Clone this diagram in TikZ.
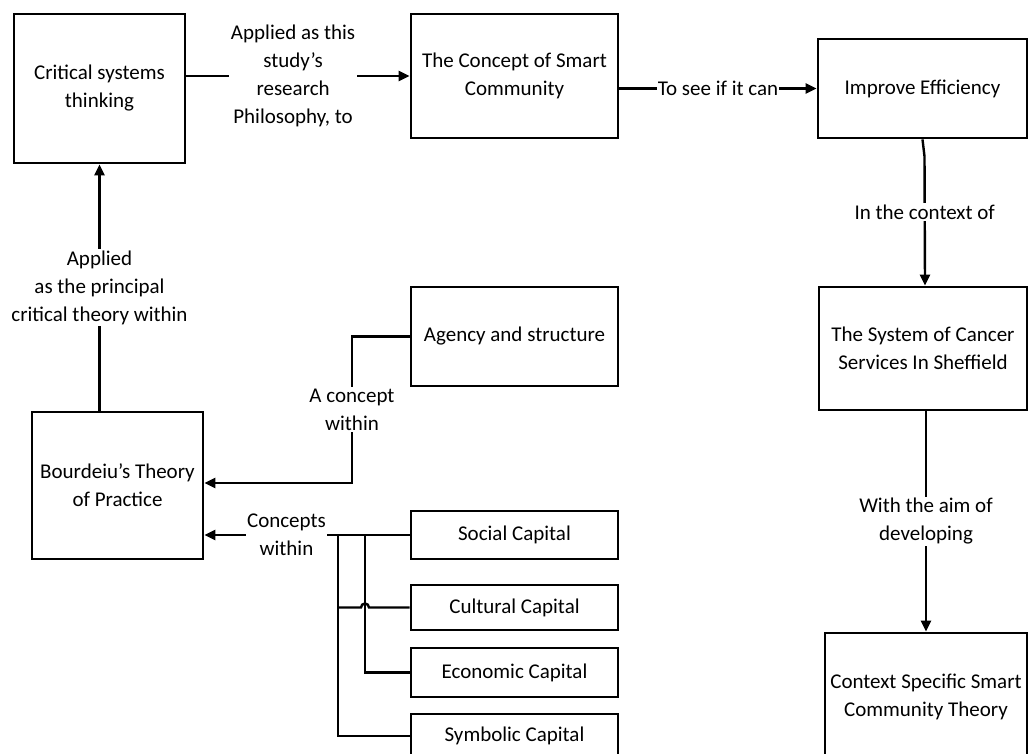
\documentclass[tikz,border=0pt]{standalone}
\usepackage{fontspec}
\setmainfont{Carlito}
\usetikzlibrary{arrows.meta,calc}
\begin{document}
\begin{tikzpicture}[x=1pt,y=-1pt,
  box/.style={draw, line width=2.8pt, align=center, inner sep=0pt},
  lbl/.style={fill=white, align=center, inner sep=1.5pt},
  conn/.style={line width=2.4pt},
  arr/.style={conn, -{Triangle[length=11pt,width=10pt]}},
  font=\fontsize{21}{28}\selectfont]
\useasboundingbox (0,0) rectangle (1030,754);
\clip (0,0) rectangle (1030,754);
\fill[white] (0,0) rectangle (1030,754);

% boxes
\node[box, minimum width=171pt, minimum height=149pt] (cst) at (99.5,88.5) {Critical systems\\thinking};
\node[box, minimum width=207pt, minimum height=124pt] (csc) at (514.5,76) {The Concept of Smart\\Community};
\node[box, minimum width=209pt, minimum height=99pt] (ie) at (922.5,88.5) {Improve Efficiency};
\node[box, minimum width=208pt, minimum height=123pt] (sys) at (923,348.5) {The System of Cancer\\Services In Sheffield};
\node[box, minimum width=202pt, minimum height=128pt] (ctx) at (926,697) {Context Specific Smart\\Community Theory};
\node[box, minimum width=207pt, minimum height=99pt] (ag) at (514.5,336.5) {Agency and structure};
\node[box, minimum width=171pt, minimum height=147pt] (bt) at (117.5,485.5) {Bourdeiu's Theory\\of Practice};
\node[box, minimum width=207pt, minimum height=48pt] (soc) at (514.5,535) {Social Capital};
\node[box, minimum width=207pt, minimum height=45pt] (cul) at (514.5,607.5) {Cultural Capital};
\node[box, minimum width=207pt, minimum height=49pt] (eco) at (514.5,672.5) {Economic Capital};
\node[box, minimum width=207pt, minimum height=44pt] (sym) at (514.5,736) {Symbolic Capital};

% top row
\draw[arr] (cst.east |- csc.west) -- node[lbl, pos=0.478] {Applied as this\\study's\\research\\Philosophy, to} (csc.west);
\draw[arr] (csc.east |- ie.west) -- node[lbl, inner sep=1pt] {To see if it can} (ie.west);

% right column
\coordinate (k0) at ($(ie.south)+(2,17)$);
\draw[arr] (ie.south) -- (k0) -- node[lbl, pos=0.43] {In the context of} ($(sys.north)+(2,0)$);
\draw[arr] ($(sys.south)+(3,0)$) -- node[lbl] {With the aim of\\developing} (ctx.north);

% left column
\draw[arr] (bt.north -| cst.south) -- node[lbl] {Applied\\as the principal\\critical theory within} (cst.south);

% agency
\coordinate (k1) at (352,336.5);
\coordinate (k2) at (352,483);
\draw[arr] (ag.west) -- (k1) -- node[lbl] {A concept\\within} (k2) -- (k2 -| bt.east);

% capitals
\draw[arr] (soc.west) -- node[lbl, pos=0.6] {Concepts\\within} (soc.west -| bt.east);
\coordinate (b1) at (338,535);
\coordinate (b2) at (365,535);
\draw[conn] (b1) |- (sym.west);
\draw[conn] (b2) |- (eco.west);
\draw[conn] (b1 |- cul.west) -- ($(b2 |- cul.west)+(-4pt,0)$) arc[start angle=180, end angle=0, radius=4pt] -- (cul.west);
\end{tikzpicture}
\end{document}
